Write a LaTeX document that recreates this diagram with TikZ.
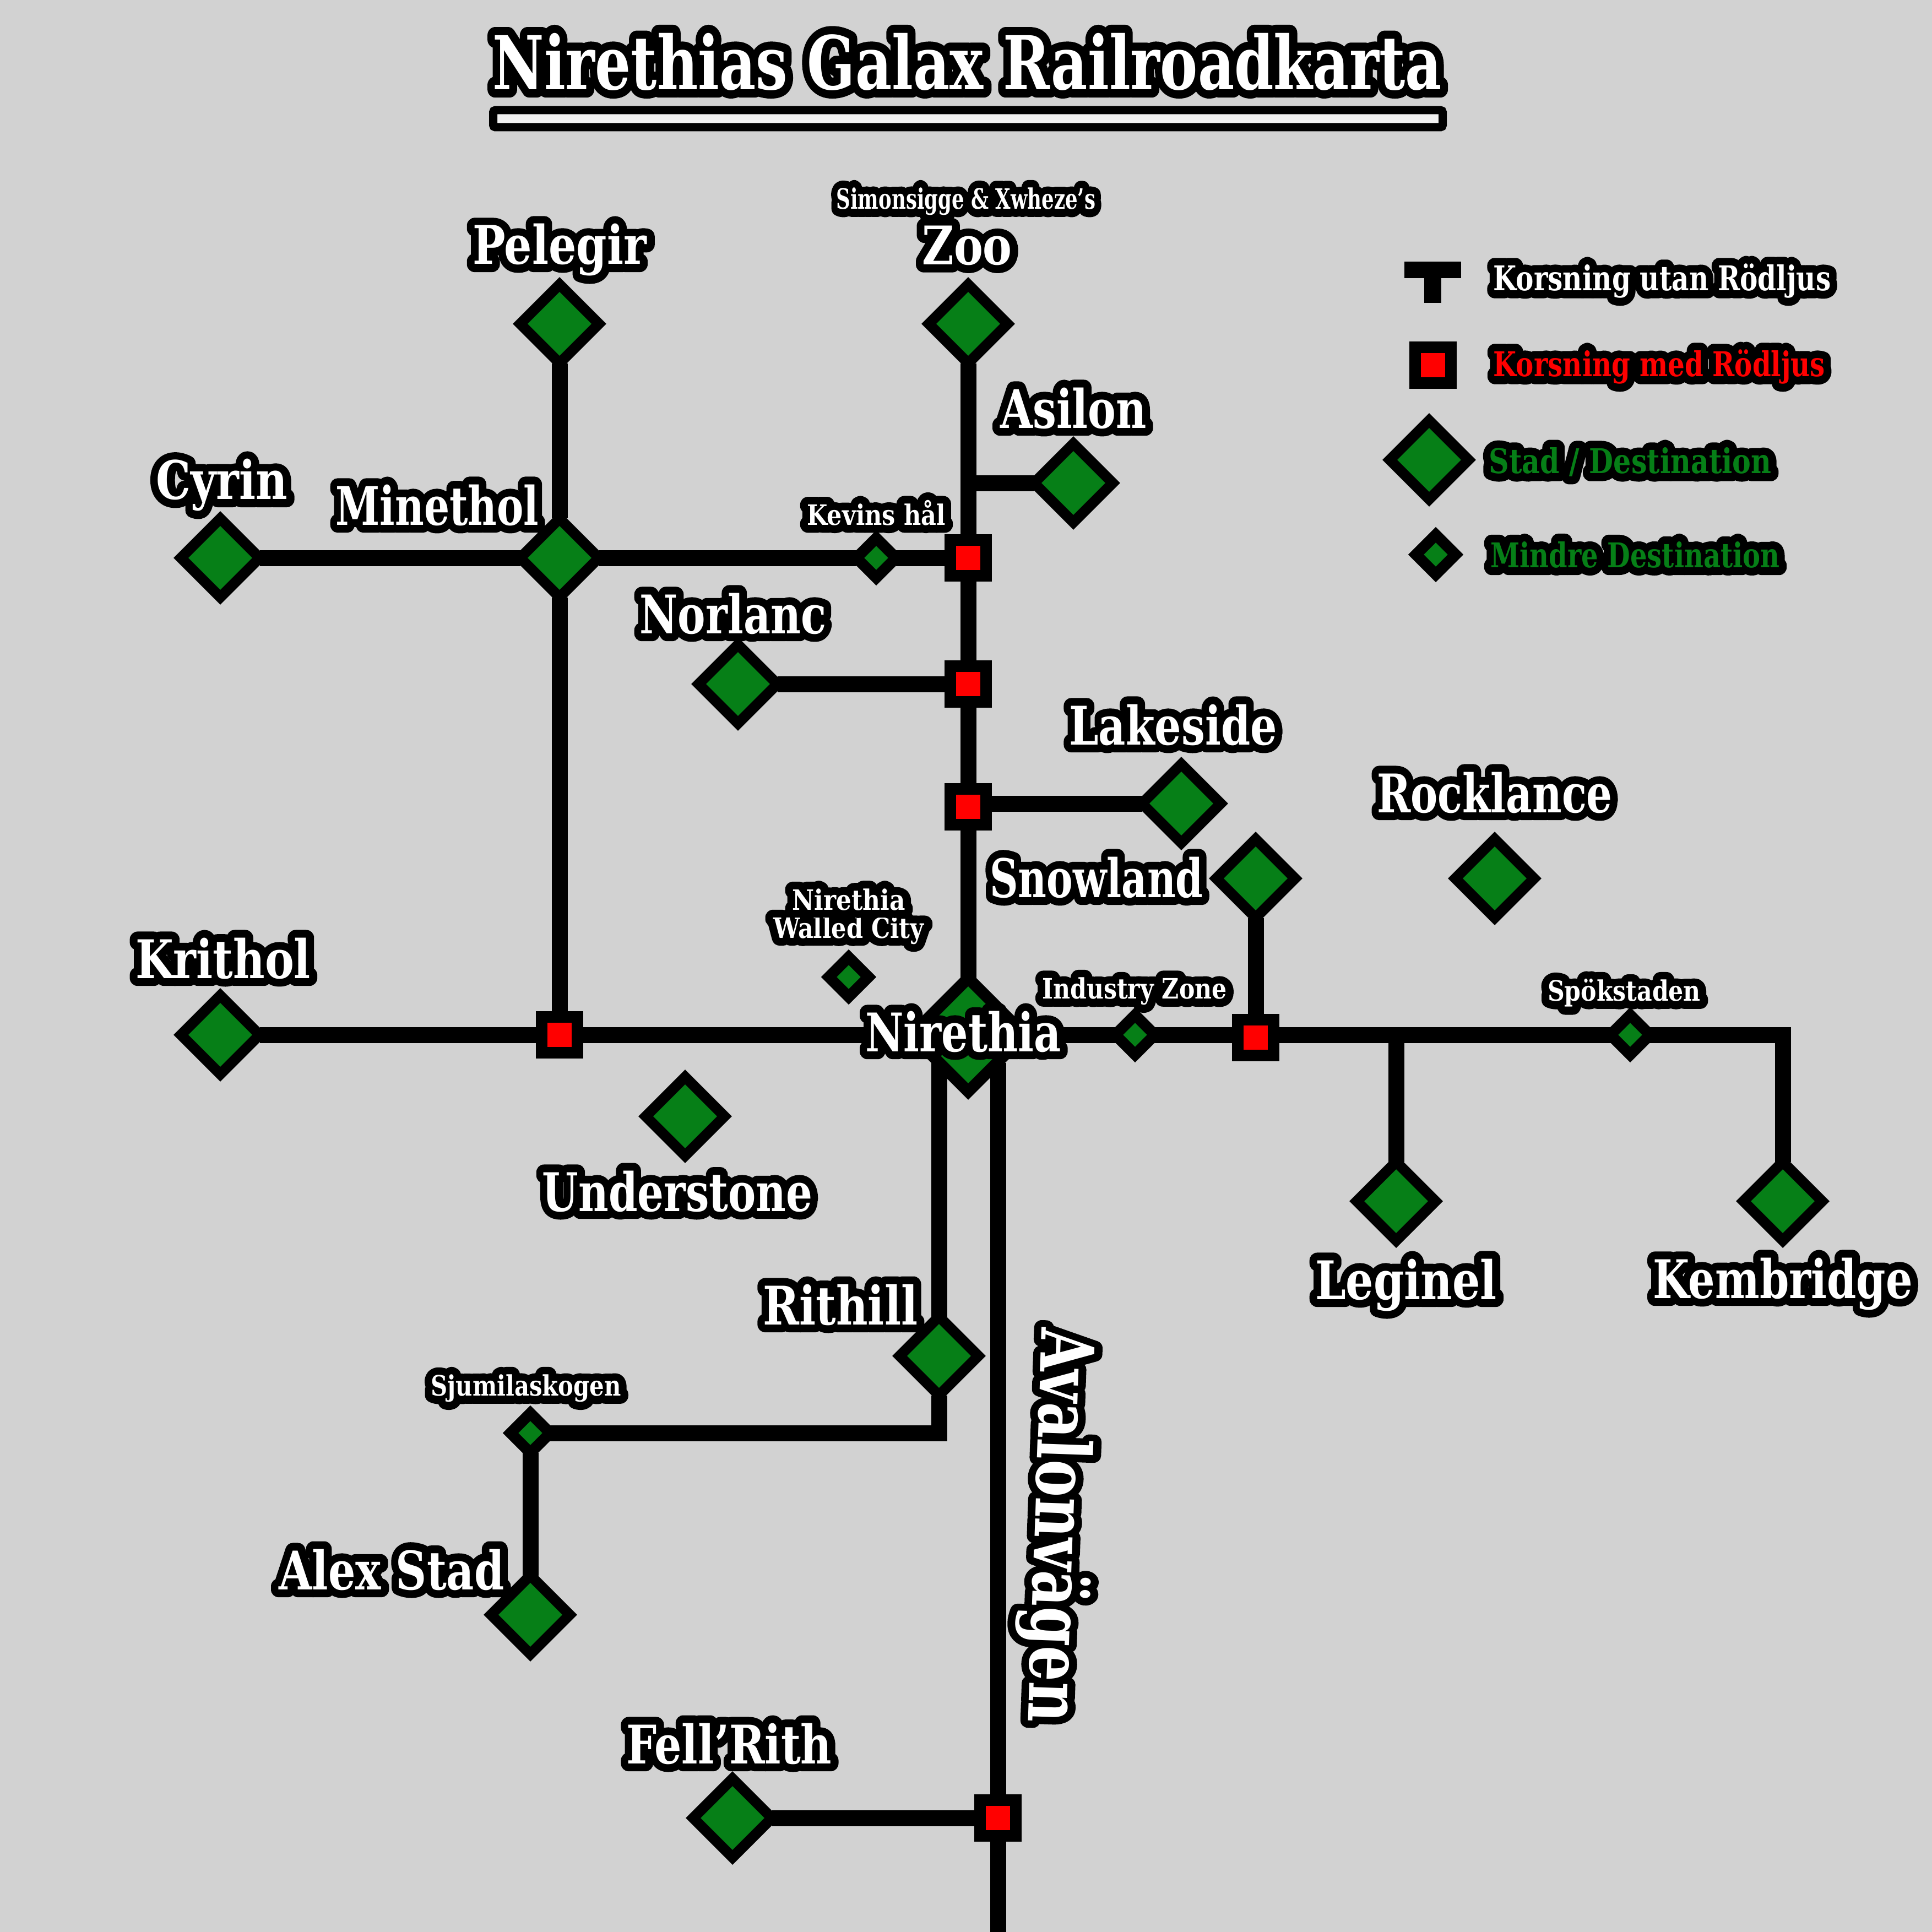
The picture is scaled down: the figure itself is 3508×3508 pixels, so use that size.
\documentclass[tikz,border=0pt]{standalone}
\usepackage{fontspec}
\usepackage{tikz}
\usetikzlibrary{shapes.geometric,backgrounds}
\newfontfamily\mapface[FakeStretch=.82]{DejaVu Serif Bold}
\definecolor{mapgrey}{HTML}{D2D2D2}
\definecolor{mapgreen}{HTML}{067F17}
\newcommand{\halolabel}[3]{\leavevmode\rlap{\color{black}\special{pdf:code 2 Tr #1 w 1 j 1 J}#3\special{pdf:code 0 Tr}}{\color{#2}#3}}
\newcommand{\namn}[1]{\halolabel{8}{white}{#1}}
\begin{document}
\begin{tikzpicture}[x=0.1mm,y=-0.1mm]
	\tikzstyle{stad}=[diamond,aspect=1,draw=black,fill=mapgreen,line width=1.9mm,minimum size=14.3mm,inner sep=0pt,outer sep=0pt]
	\tikzstyle{huvudstad}=[stad,line width=2.1mm,minimum size=20.6mm]
	\tikzstyle{mindre}=[stad,line width=2mm,minimum size=7.2mm]
	\tikzstyle{rodljus}=[rectangle,draw=black,fill=red,line width=2.05mm,minimum size=6.5mm,inner sep=0pt,outer sep=0pt]
	\tikzstyle{rail}=[draw=black,line width=2.9mm]
	\tikzstyle{bignamn}=[inner sep=0pt,font=\mapface\fontsize{27.5}{30}\selectfont]
	\tikzstyle{smallnamn}=[inner sep=0pt,font=\mapface\fontsize{14.5}{16}\selectfont]
	\tikzstyle{legendnamn}=[inner sep=0pt,font=\mapface\fontsize{17.6}{20}\selectfont]

	\useasboundingbox (0,0) rectangle (3508,3508);

	\node[stad] (pelegir) at (1016,588) {};
	\node[stad] (zoo) at (1758,588) {};
	\node[stad] (asilon) at (1949,877) {};
	\node[stad] (cyrin) at (400,1013) {};
	\node[stad] (minethol) at (1016,1013) {};
	\node[mindre] (kevins) at (1591,1013) {};
	\node[stad] (norlanc) at (1340,1242) {};
	\node[stad] (lakeside) at (2145,1459) {};
	\node[stad] (snowland) at (2280,1595) {};
	\node[stad] (rocklance) at (2714,1595) {};
	\node[stad] (krithol) at (400,1879) {};
	\node[mindre] (walled) at (1541,1774) {};
	\node[huvudstad] (nirethia) at (1758,1879) {};
	\node[mindre] (industry) at (2061,1879) {};
	\node[mindre] (spok) at (2960,1879) {};
	\node[stad] (understone) at (1244,2027) {};
	\node[stad] (leginel) at (2535,2181) {};
	\node[stad] (kembridge) at (3237,2181) {};
	\node[stad] (rithill) at (1705,2462) {};
	\node[mindre] (sjumila) at (963,2602) {};
	\node[stad] (alex) at (963,2932) {};
	\node[stad] (fell) at (1330,3301) {};

	\node[rodljus] (korsA) at (1758,1013) {};
	\node[rodljus] (korsB) at (1758,1242) {};
	\node[rodljus] (korsC) at (1758,1465) {};
	\node[rodljus] (korsD) at (1016,1879) {};
	\node[rodljus] (korsE) at (2280,1884) {};
	\node[rodljus] (korsF) at (1812,3301) {};

	\node[rodljus] (legendkors) at (2602,663) {};
	\node[stad] (legendstad) at (2595,835) {};
	\node[mindre] (legendmindre) at (2607,1007) {};

	\coordinate (asilonjoin) at (1758,877);
	\coordinate (lakejoin) at (1758,1459);
	\coordinate (eastcorner) at (3237,1879);
	\coordinate (leginjoin) at (2535,1879);
	\coordinate (snowjoin) at (2280,1879);
	\coordinate (rithtop) at (1705,1930);
	\coordinate (avaltop) at (1812,1930);
	\coordinate (rithcorner) at (1705,2602);
	\coordinate (avalend) at (1812,3508);
	\coordinate (tleft) at (2550,490);
	\coordinate (tright) at (2653,490);
	\coordinate (tmid) at (2601.5,490);
	\coordinate (tend) at (2601.5,550);

	\begin{pgfonlayer}{background}
		\fill[mapgrey] (0,0) rectangle (3508,3508);
		\draw[rail] (zoo) -- (korsA) -- (korsB) -- (korsC) -- (nirethia);
		\draw[rail] (asilonjoin) -- (asilon);
		\draw[rail] (cyrin) -- (minethol) -- (kevins) -- (korsA);
		\draw[rail] (pelegir) -- (minethol) -- (korsD);
		\draw[rail] (norlanc) -- (korsB);
		\draw[rail] (lakejoin) -- (lakeside);
		\draw[rail] (krithol) -- (korsD) -- (nirethia) -- (eastcorner) -- (kembridge);
		\draw[rail] (snowland) -- (snowjoin);
		\draw[rail] (leginjoin) -- (leginel);
		\draw[rail] (rithtop) -- (rithill);
		\draw[rail] (rithill) -- (rithcorner) -- (sjumila) -- (alex);
		\draw[rail] (avaltop) -- (korsF) -- (avalend);
		\draw[rail] (fell) -- (korsF);
		\draw[line width=3mm] (tleft) -- (tright);
		\draw[line width=3.1mm] (tmid) -- (tend);
	\end{pgfonlayer}

	\draw[draw=black,fill=black!6,line width=1.5mm,rounded corners=0.4mm] (895.5,200) rectangle (2619.5,231);

	\node[inner sep=0pt,xscale=.927,font=\mapface\fontsize{38.3}{42}\selectfont] (titel) at (1756,112) {\halolabel{8.5}{white}{Nirethias Galax Railroadkarta}};
	\node[smallnamn,xscale=.85] (simonsigge) at (1754,366) {\namn{Simonsigge \& Xwheze’s}};
	\node[bignamn] (lzoo) at (1756,446) {\namn{Zoo}};
	\node[bignamn] (lpelegir) at (1016,454) {\namn{Pelegir}};
	\node[bignamn,xscale=.96] (lasilon) at (1949,741) {\namn{Asilon}};
	\node[bignamn] (lcyrin) at (403,881) {\namn{Cyrin}};
	\node[bignamn,xscale=.915] (lminethol) at (794,917) {\namn{Minethol}};
	\node[smallnamn,xscale=1.03] (lkevins) at (1591,931) {\namn{Kevins hål}};
	\node[bignamn,xscale=.955] (lnorlanc) at (1331,1114) {\namn{Norlanc}};
	\node[bignamn,xscale=.96] (llakeside) at (2130,1316) {\namn{Lakeside}};
	\node[bignamn,xscale=.93] (lrocklance) at (2714,1439) {\namn{Rocklance}};
	\node[bignamn,xscale=.9] (lsnowland) at (1991,1593) {\namn{Snowland}};
	\node[bignamn] (lkrithol) at (405,1740) {\namn{Krithol}};
	\node[smallnamn,anchor=base,xscale=1.03] (lwalledA) at (1541,1703) {\namn{Walled City}};
	\node[smallnamn,anchor=base,xscale=1.05] (lwalledB) at (1541,1652) {\namn{Nirethia}};
	\node[smallnamn,xscale=1.02] (lindustry) at (2060,1800) {\namn{Industry Zone}};
	\node[smallnamn,xscale=1.02] (lspok) at (2949,1803) {\namn{Spökstaden}};
	\node[bignamn,xscale=.96] (lnirethia) at (1749,1873) {\namn{Nirethia}};
	\node[bignamn,xscale=.95] (lunderstone) at (1230,2163) {\namn{Understone}};
	\node[bignamn] (lrithill) at (1526,2369) {\namn{Rithill}};
	\node[smallnamn] (lsjumila) at (955,2521) {\namn{Sjumilaskogen}};
	\node[bignamn] (lleginel) at (2553,2333) {\namn{Leginel}};
	\node[bignamn,xscale=.963] (lkembridge) at (3237,2331) {\namn{Kembridge}};
	\node[bignamn,xscale=.98] (lalex) at (711,2850) {\namn{Alex Stad}};
	\node[bignamn,xscale=.98] (lfell) at (1324,3166) {\namn{Fell’Rith}};
	\node[inner sep=0pt,rotate=-92,font=\mapface\fontsize{38}{42}\selectfont,xscale=.93] (lavalon) at (1917,2770) {\namn{Avalonvägen}};

	\node[legendnamn,xscale=.957] (lutan) at (3018,510) {\namn{Korsning utan Rödljus}};
	\node[legendnamn,xscale=.953] (lmed) at (3013,666) {\halolabel{8}{red}{Korsning med Rödljus}};
	\node[legendnamn] (lstad) at (2960,839) {\halolabel{8}{mapgreen}{Stad / Destination}};
	\node[legendnamn,xscale=.947] (lmindre) at (2969,1007) {\halolabel{8}{mapgreen}{Mindre Destination}};
\end{tikzpicture}
\end{document}
